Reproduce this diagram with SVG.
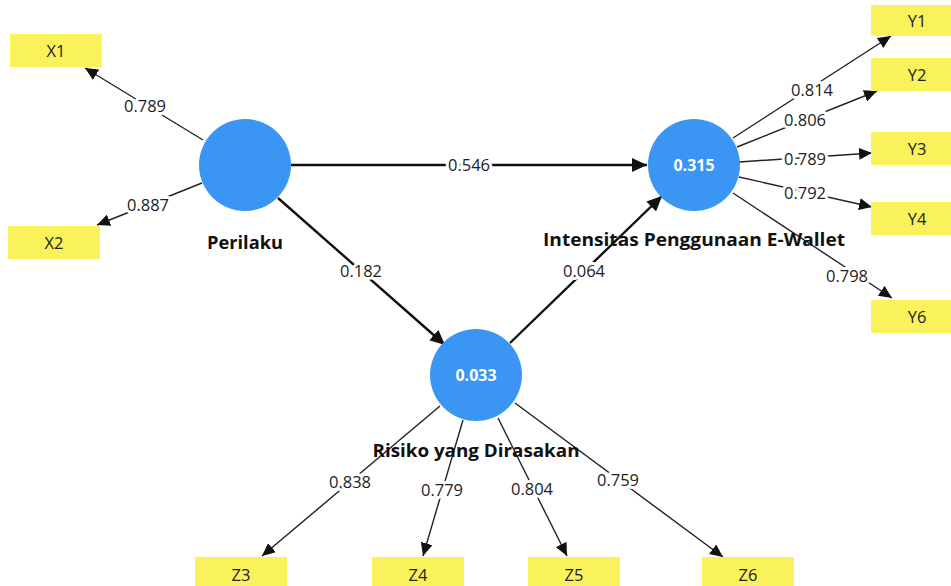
<svg xmlns="http://www.w3.org/2000/svg" width="951" height="586" viewBox="0 0 951 586">
<style>
.ind rect{fill:#FAF25A}
.ind text{font-family:"Open Sans","Noto Sans",sans-serif;font-size:16.5px;fill:#222;text-anchor:middle}
.lv circle{fill:#3A96F2}
.lv .val{font-family:"Open Sans","Noto Sans",sans-serif;font-size:16px;font-weight:bold;fill:#fff;text-anchor:middle}
.lv .name{font-family:"Open Sans","Noto Sans",sans-serif;font-size:18px;font-weight:bold;fill:#111;text-anchor:middle}
.thin{stroke:#222;stroke-width:1.4;fill:none;marker-end:url(#ah)}
.thick{stroke:#111;stroke-width:2.4;fill:none;marker-end:url(#ahb)}
.lbl{font-family:"Open Sans","Noto Sans",sans-serif;font-size:16.5px;fill:#222;text-anchor:middle;stroke:#fff;stroke-width:6;paint-order:stroke;stroke-linejoin:round}
</style>
<defs>
<marker id="ah" markerUnits="userSpaceOnUse" markerWidth="14" markerHeight="12" refX="13" refY="6" orient="auto"><path d="M0,0 L13,6 L0,12 z" fill="#111"/></marker>
<marker id="ahb" markerUnits="userSpaceOnUse" markerWidth="16" markerHeight="14" refX="15" refY="7" orient="auto"><path d="M0,0 L15,7 L0,14 z" fill="#111"/></marker>
</defs>
<rect width="951" height="586" fill="#fff"/>
<g id="connectors">
<line class="thin" x1="203" y1="140" x2="85" y2="68"/>
<line class="thin" x1="202" y1="183" x2="97" y2="225"/>
<line class="thick" x1="291" y1="165" x2="647" y2="165"/>
<line class="thick" x1="278" y1="198" x2="445" y2="345"/>
<line class="thick" x1="510" y1="343" x2="662" y2="196"/>
<line class="thin" x1="733" y1="138" x2="891" y2="36"/>
<line class="thin" x1="737" y1="147" x2="877" y2="91"/>
<line class="thin" x1="739" y1="162" x2="872" y2="153"/>
<line class="thin" x1="739" y1="177" x2="872" y2="207"/>
<line class="thin" x1="733" y1="193" x2="892" y2="298"/>
<line class="thin" x1="440" y1="406" x2="262" y2="556"/>
<line class="thin" x1="463" y1="420" x2="423" y2="556"/>
<line class="thin" x1="498" y1="418" x2="567" y2="556"/>
<line class="thin" x1="515" y1="403" x2="723" y2="557"/>
<text class="lbl" x="145" y="112">0.789</text>
<text class="lbl" x="148" y="211">0.887</text>
<text class="lbl" x="469" y="171">0.546</text>
<text class="lbl" x="361" y="277">0.182</text>
<text class="lbl" x="584" y="277">0.064</text>
<text class="lbl" x="812" y="96">0.814</text>
<text class="lbl" x="805" y="126">0.806</text>
<text class="lbl" x="805" y="165">0.789</text>
<text class="lbl" x="805" y="199">0.792</text>
<text class="lbl" x="847" y="282">0.798</text>
<text class="lbl" x="350" y="488">0.838</text>
<text class="lbl" x="442" y="496">0.779</text>
<text class="lbl" x="532" y="495">0.804</text>
<text class="lbl" x="618" y="486">0.759</text>
</g>
<g id="X1" class="ind"><rect x="10" y="34" width="92" height="33"/><text x="56" y="57">X1</text></g>
<g id="X2" class="ind"><rect x="8" y="226" width="92" height="33"/><text x="54" y="249">X2</text></g>
<g id="Y1" class="ind"><rect x="871" y="5" width="92" height="31"/><text x="917" y="27">Y1</text></g>
<g id="Y2" class="ind"><rect x="871" y="58" width="92" height="33"/><text x="917" y="81">Y2</text></g>
<g id="Y3" class="ind"><rect x="871" y="132" width="92" height="33"/><text x="917" y="155">Y3</text></g>
<g id="Y4" class="ind"><rect x="871" y="202" width="92" height="33"/><text x="917" y="225">Y4</text></g>
<g id="Y6" class="ind"><rect x="871" y="300" width="92" height="33"/><text x="917" y="323">Y6</text></g>
<g id="Z3" class="ind"><rect x="195" y="557" width="92" height="33"/><text x="241" y="581">Z3</text></g>
<g id="Z4" class="ind"><rect x="372" y="557" width="92" height="33"/><text x="418" y="581">Z4</text></g>
<g id="Z5" class="ind"><rect x="528" y="557" width="92" height="33"/><text x="574" y="581">Z5</text></g>
<g id="Z6" class="ind"><rect x="702" y="557" width="92" height="33"/><text x="748" y="581">Z6</text></g>
<g id="Perilaku" class="lv"><circle cx="245" cy="165" r="46"/><text class="name" x="245" y="249" textLength="76" lengthAdjust="spacingAndGlyphs">Perilaku</text></g>
<g id="Intensitas" class="lv"><circle cx="694" cy="165" r="46"/><text class="val" x="694" y="171">0.315</text><text class="name" x="694" y="246" textLength="302" lengthAdjust="spacingAndGlyphs">Intensitas Penggunaan E-Wallet</text></g>
<g id="Risiko" class="lv"><circle cx="476" cy="375" r="46"/><text class="val" x="476" y="381">0.033</text><text class="name" x="476" y="457" textLength="207" lengthAdjust="spacingAndGlyphs">Risiko yang Dirasakan</text></g>
</svg>
